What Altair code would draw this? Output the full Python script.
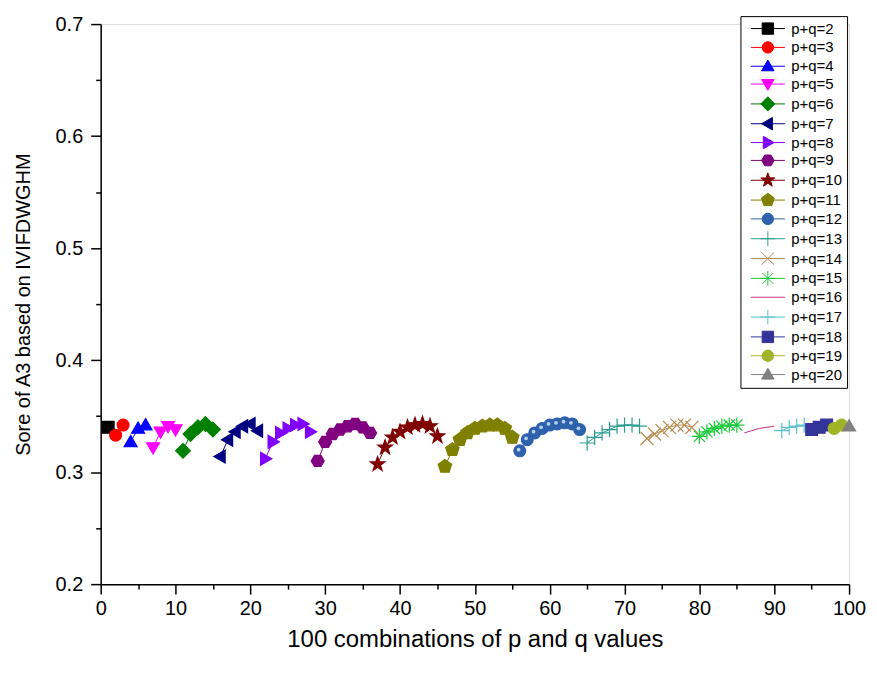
import math
import altair as alt
import pandas as pd

# ---------------- data ----------------
series_names = [f"p+q={k}" for k in range(2, 21)]

s2 = [0.340]
s3 = [0.333, 0.342]
s4 = [0.327, 0.339, 0.342]
s5 = [0.322, 0.336, 0.341, 0.338]
s6 = [0.319, 0.334, 0.340, 0.343, 0.338]
s7 = [0.314, 0.329, 0.336, 0.341, 0.343, 0.337]
s8 = [0.312, 0.327, 0.335, 0.339, 0.342, 0.343, 0.336]
s9 = [0.310, 0.327, 0.334, 0.338, 0.341, 0.343, 0.340, 0.335]
s10 = [0.307, 0.322, 0.331, 0.336, 0.340, 0.342, 0.343, 0.341, 0.332]
s11 = [0.305, 0.320, 0.329, 0.335, 0.339, 0.341, 0.342, 0.342, 0.339, 0.331]
s12 = [0.319, 0.329, 0.335, 0.339, 0.342, 0.343, 0.344, 0.343, 0.338]
s13 = [0.326, 0.331, 0.335, 0.338, 0.341, 0.342, 0.342, 0.341]
s14 = [0.330, 0.334, 0.337, 0.340, 0.342, 0.342, 0.340]
s15 = [0.332, 0.336, 0.339, 0.341, 0.342, 0.342]
s16 = [0.335, 0.337, 0.339, 0.340, 0.341]
s17 = [0.337, 0.340, 0.341, 0.342]
s18 = [0.338, 0.340, 0.342]
s19 = [0.339, 0.342]
s20 = [0.341]
series_values = [s2, s3, s4, s5, s6, s7, s8, s9, s10, s11, s12, s13, s14,
                 s15, s16, s17, s18, s19, s20]

x_ticks = [0, 10, 20, 30, 40, 50, 60, 70, 80, 90, 100]
x_minor = [5, 15, 25, 35, 45, 55, 65, 75, 85, 95]
y_ticks = [0.2, 0.3, 0.4, 0.5, 0.6, 0.7]
y_minor = [0.25, 0.35, 0.45, 0.55, 0.65]

# ---------------- styles ----------------
colors = ["#000000", "#ff0000", "#0000ff", "#ff00ff", "#008000", "#000080",
          "#8000ff", "#800080", "#800000", "#808000", "#2f62ad", "#2a9d8f",
          "#b58a4c", "#1dc93d", "#c0307a", "#5bc0d0", "#333399", "#a0b428",
          "#808080"]
stroked_only = {"p+q=13", "p+q=14", "p+q=15", "p+q=16", "p+q=17"}
fills = ["transparent" if n in stroked_only else c
         for n, c in zip(series_names, colors)]


def star_path(n, r_out, r_in):
    pts = []
    for i in range(2 * n):
        r = r_out if i % 2 == 0 else r_in
        a = -math.pi / 2 + i * math.pi / n
        pts.append(f"{r * math.cos(a):.3f},{r * math.sin(a):.3f}")
    return "M" + "L".join(pts) + "Z"


def poly_path(n, r):
    pts = []
    for i in range(n):
        a = -math.pi / 2 + i * 2 * math.pi / n
        pts.append(f"{r * math.cos(a):.3f},{r * math.sin(a):.3f}")
    return "M" + "L".join(pts) + "Z"


SQUARE = "M-1,-1L1,-1L1,1L-1,1Z"
CIRCLE = "M1,0A1,1,0,1,1,-1,0A1,1,0,1,1,1,0Z"
TRI_UP = "M0,-1.1L1.1,0.8L-1.1,0.8Z"
TRI_DOWN = "M0,1.1L1.1,-0.8L-1.1,-0.8Z"
TRI_LEFT = "M-1.1,0L0.8,-1.1L0.8,1.1Z"
TRI_RIGHT = "M1.1,0L-0.8,-1.1L-0.8,1.1Z"
DIAMOND = "M0,-1.25L1.25,0L0,1.25L-1.25,0Z"
HEXAGON = "M-1.1,0L-0.55,-0.95L0.55,-0.95L1.1,0L0.55,0.95L-0.55,0.95Z"
STAR = star_path(5, 1.3, 0.52)
PENTAGON = poly_path(5, 1.2)
PLUS = "M-1.3,0L1.3,0M0,-1.3L0,1.3"
XCROSS = "M-1.1,-1.1L1.1,1.1M-1.1,1.1L1.1,-1.1"
ASTER = "M-1.3,0L1.3,0M0,-1.3L0,1.3M-0.95,-0.95L0.95,0.95M-0.95,0.95L0.95,-0.95"
NONE = "M0,0"

shapes = [SQUARE, CIRCLE, TRI_UP, TRI_DOWN, DIAMOND, TRI_LEFT, TRI_RIGHT,
          HEXAGON, STAR, PENTAGON, CIRCLE, PLUS, XCROSS, ASTER, NONE, PLUS,
          SQUARE, CIRCLE, TRI_UP]
LEG_LINE = "M-3,0L3,0"
legend_shapes = [s + LEG_LINE for s in shapes]

# ---------------- table ----------------
rows = []
idx = 0
for name, vals in zip(series_names, series_values):
    for v in vals:
        idx += 1
        rows.append({"x": idx, "y": v, "series": name})
df = pd.DataFrame(rows)

FONT = "Liberation Sans, Arial, sans-serif"

xscale = alt.Scale(domain=[0, 100], nice=False, zero=False)
yscale = alt.Scale(domain=[0.2, 0.7], nice=False, zero=False)


def stroke_scale():
    return alt.Scale(domain=series_names, range=colors)


def fill_scale():
    return alt.Scale(domain=series_names, range=fills)


x_major_axis = alt.Axis(orient="bottom", values=x_ticks, tickSize=10,
                        tickWidth=1.5, domainWidth=1.5, domainColor="black",
                        tickColor="black", labelColor="black", labelFont=FONT,
                        labelFontSize=20, labelPadding=4, grid=False,
                        labelFlush=False,
                        title="100 combinations of p and q values",
                        titleFont=FONT, titleFontSize=24,
                        titleFontWeight="normal", titleColor="black",
                        titlePadding=10)
y_major_axis = alt.Axis(orient="left", values=y_ticks, format=".1f",
                        tickSize=10, tickWidth=1.5, domainWidth=1.5,
                        domainColor="black", tickColor="black",
                        labelColor="black", labelFont=FONT, labelFontSize=20,
                        labelPadding=8, grid=False, labelFlush=False,
                        title="Sore of A3 based on IVIFDWGHM", titleFont=FONT,
                        titleFontSize=20, titleFontWeight="normal",
                        titleColor="black", titlePadding=22)
x_minor_axis = alt.Axis(orient="bottom", values=x_minor, tickSize=5,
                        tickWidth=1.5, tickColor="black", labels=False,
                        domain=False, grid=False, title=None)
y_minor_axis = alt.Axis(orient="left", values=y_minor, tickSize=5,
                        tickWidth=1.5, tickColor="black", labels=False,
                        domain=False, grid=False, title=None)

base = alt.Chart(df)

lines = base.mark_line(strokeWidth=1).encode(
    x=alt.X("x:Q", scale=xscale, axis=x_major_axis),
    y=alt.Y("y:Q", scale=yscale, axis=y_major_axis),
    stroke=alt.Stroke("series:N", scale=stroke_scale(), legend=None),
    detail="series:N",
)

points = base.mark_point(size=140, opacity=1, strokeWidth=1.2,
                         filled=True).encode(
    x=alt.X("x:Q", scale=xscale, axis=None),
    y=alt.Y("y:Q", scale=yscale, axis=None),
    stroke=alt.Stroke("series:N", scale=stroke_scale(), legend=None),
    fill=alt.Fill("series:N", scale=fill_scale(), legend=None),
    shape=alt.Shape("series:N",
                    scale=alt.Scale(domain=series_names, range=shapes),
                    legend=None),
)

# small highlight on the "sphere" markers of p+q=12
shine = base.transform_filter(alt.datum.series == "p+q=12").mark_point(
    size=14, opacity=0.85, filled=True, shape="circle", color="#cfe0f7",
    xOffset=-1.2, yOffset=-1.2).encode(
    x=alt.X("x:Q", scale=xscale, axis=None),
    y=alt.Y("y:Q", scale=yscale, axis=None),
)

leg = alt.Legend(title=None, orient="none", legendX=642, legendY=-8,
                 strokeColor="black", fillColor="white", padding=5,
                 labelFont=FONT, labelFontSize=15, labelColor="black",
                 symbolSize=130, symbolStrokeWidth=1, symbolOffset=15,
                 labelOffset=16, rowPadding=1.9, labelLimit=200)

legend_layer = base.transform_filter("false").mark_point(
    size=130, opacity=1, filled=True).encode(
    x=alt.X("x:Q", scale=xscale, axis=None),
    y=alt.Y("y:Q", scale=yscale, axis=None),
    stroke=alt.Stroke("series:N", scale=stroke_scale(), legend=leg),
    fill=alt.Fill("series:N", scale=fill_scale(), legend=leg),
    shape=alt.Shape("series:N",
                    scale=alt.Scale(domain=series_names, range=legend_shapes),
                    legend=leg),
)

minor = base.mark_point(opacity=0).encode(
    x=alt.X("x:Q", scale=xscale, axis=x_minor_axis),
    y=alt.Y("y:Q", scale=yscale, axis=y_minor_axis),
)

chart = alt.layer(minor, lines, points, shine, legend_layer).resolve_scale(
    shape="independent", stroke="independent", fill="independent"
).resolve_axis(
    x="independent", y="independent"
).properties(
    width=751, height=562,
    autosize=alt.AutoSizeParams(type="none"),
    padding={"left": 93, "top": 15, "right": 20, "bottom": 80},
).configure_view(stroke=None).configure(background="white")

chart.save("out.html", embed_options={"renderer": "svg", "actions": False})
